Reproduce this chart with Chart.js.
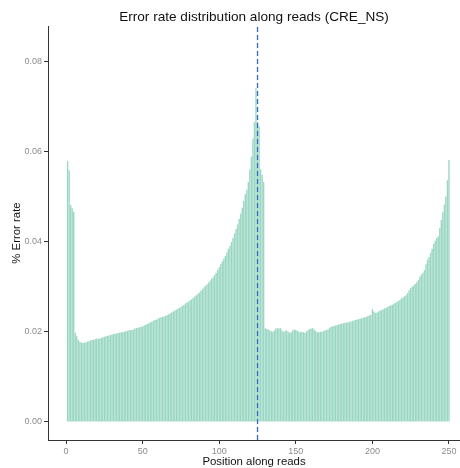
<!DOCTYPE html>
<html>
<head>
<meta charset="utf-8">
<script src="https://cdn.jsdelivr.net/npm/chart.js@4/dist/chart.umd.min.js"></script>
<style>
  html, body { margin: 0; padding: 0; background: #fff; }
  canvas { display: block; }
</style>
</head>
<body>
<canvas id="myChart" width="460" height="468"></canvas>
<script>
// error rate per read position (1..250)
const leftRates = [
  0.0578, 0.0558, 0.0481, 0.0474, 0.0466, 0.0198, 0.0190, 0.0182, 0.0178, 0.0176,
  0.0175, 0.0176, 0.0177, 0.0178, 0.0179, 0.0181, 0.0182, 0.0182, 0.0184, 0.0185,
  0.0184, 0.0185, 0.0186, 0.0188, 0.0189, 0.0190, 0.0191, 0.0192, 0.0193, 0.0194,
  0.0195, 0.0196, 0.0196, 0.0197, 0.0198, 0.0199, 0.0199, 0.0200, 0.0201, 0.0202,
  0.0203, 0.0204, 0.0204, 0.0205, 0.0207, 0.0208, 0.0209, 0.0210, 0.0211, 0.0212,
  0.0214, 0.0215, 0.0217, 0.0219, 0.0221, 0.0222, 0.0224, 0.0226, 0.0227, 0.0229,
  0.0231, 0.0232, 0.0233, 0.0234, 0.0235, 0.0237, 0.0239, 0.0241, 0.0243, 0.0245,
  0.0247, 0.0249, 0.0251, 0.0253, 0.0255, 0.0258, 0.0260, 0.0263, 0.0265, 0.0267,
  0.0270, 0.0272, 0.0275, 0.0278, 0.0281, 0.0284, 0.0287, 0.0291, 0.0294, 0.0298,
  0.0302, 0.0305, 0.0309, 0.0313, 0.0317, 0.0321, 0.0326, 0.0331, 0.0337, 0.0343,
  0.0350, 0.0356, 0.0362, 0.0368, 0.0376, 0.0384, 0.0391, 0.0399, 0.0408, 0.0418,
  0.0428, 0.0438, 0.0450, 0.0462, 0.0475, 0.0490, 0.0505, 0.0515, 0.0532, 0.0560,
  0.0588, 0.0628, 0.0665, 0.0740, 0.0665, 0.0655, 0.0560, 0.0548, 0.0532, 0.0208
];
const rightRates = [
  0.0206, 0.0205, 0.0203, 0.0201, 0.0200, 0.0203, 0.0207, 0.0208, 0.0207, 0.0208,
  0.0203, 0.0200, 0.0202, 0.0203, 0.0200, 0.0198, 0.0199, 0.0203, 0.0205, 0.0204,
  0.0202, 0.0200, 0.0199, 0.0200, 0.0199, 0.0198, 0.0201, 0.0204, 0.0206, 0.0207,
  0.0208, 0.0205, 0.0201, 0.0199, 0.0199, 0.0200, 0.0200, 0.0201, 0.0203, 0.0204,
  0.0205, 0.0209, 0.0211, 0.0212, 0.0213, 0.0214, 0.0215, 0.0216, 0.0217, 0.0218,
  0.0219, 0.0220, 0.0220, 0.0221, 0.0222, 0.0223, 0.0224, 0.0225, 0.0226, 0.0227,
  0.0228, 0.0229, 0.0230, 0.0231, 0.0232, 0.0233, 0.0235, 0.0236, 0.0238, 0.0250,
  0.0245, 0.0242, 0.0243, 0.0245, 0.0247, 0.0248, 0.0250, 0.0252, 0.0253, 0.0255,
  0.0257, 0.0258, 0.0260, 0.0262, 0.0264, 0.0266, 0.0268, 0.0271, 0.0274, 0.0276,
  0.0279, 0.0281, 0.0286, 0.0292, 0.0297, 0.0300, 0.0303, 0.0306, 0.0310, 0.0315,
  0.0322, 0.0327, 0.0331, 0.0337, 0.0350, 0.0360, 0.0366, 0.0375, 0.0384, 0.0395,
  0.0402, 0.0408, 0.0412, 0.0430, 0.0448, 0.0465, 0.0482, 0.0500, 0.0536, 0.0581
];
const errorRates = leftRates.concat(rightRates);
const positions = errorRates.map((v, i) => i + 1);

const xTicks = [0, 50, 100, 150, 200, 250];
const yTicks = [0, 0.02, 0.04, 0.06, 0.08];
const splitPosition = 125;   // dashed line (read 1 / read 2 join)

const xMin = -11.8, xMax = 257.2;
const yMin = -0.004, yMax = 0.0878;

const barData = positions.map((p, i) => ({ x: p, y: errorRates[i] }));
const lineData = [{ x: splitPosition, y: yMin }, { x: splitPosition, y: yMax }];

const axisColor = '#333333';
const tickColor = '#8c8c8c';
const font = 'Liberation Sans, Arial, Helvetica, sans-serif';

config = {
  data: {
    datasets: [{
      type: 'bar',
      data: barData,
      backgroundColor: '#9ad7c2',
      borderWidth: 0,
      barPercentage: 0.9,
      categoryPercentage: 1.0,
      order: 2
    }, {
      type: 'line',
      data: lineData,
      borderColor: '#2f6bc0',
      borderWidth: 1.3,
      borderDash: [5, 3],
      pointRadius: 0,
      order: 1
    }]
  },
  options: {
    responsive: false,
    animation: false,
    layout: { padding: 0 },
    plugins: {
      legend: { display: false },
      tooltip: { enabled: false },
      title: {
        display: true,
        text: 'Error rate distribution along reads (CRE_NS)',
        fullSize: false,
        color: '#111',
        font: { family: font, size: 13.6, weight: 'normal' },
        padding: { top: 9, bottom: 0.7 }
      }
    },
    scales: {
      x: {
        type: 'linear',
        min: xMin,
        max: xMax,
        offset: false,
        afterBuildTicks: s => { s.ticks = xTicks.map(v => ({ value: v })); },
        afterFit: s => { s.height = 28; },
        ticks: {
          color: tickColor,
          font: { family: font, size: 9 },
          padding: 2,
          maxRotation: 0,
          callback: v => String(v)
        },
        grid: { offset: false, drawOnChartArea: false, drawTicks: true, tickLength: 4, color: axisColor },
        border: { display: true, color: axisColor, width: 1 },
        title: {
          display: true,
          text: 'Position along reads',
          color: '#111',
          font: { family: font, size: 11.4 },
          padding: { top: 0, bottom: -1 }
        }
      },
      y: {
        type: 'linear',
        min: yMin,
        max: yMax,
        afterBuildTicks: s => { s.ticks = yTicks.map(v => ({ value: v })); },
        afterFit: s => { s.width = 48; },
        ticks: {
          color: tickColor,
          font: { family: font, size: 9 },
          padding: 2,
          callback: v => v.toFixed(2)
        },
        grid: { drawOnChartArea: false, drawTicks: true, tickLength: 4, color: axisColor },
        border: { display: true, color: axisColor, width: 1 },
        title: {
          display: true,
          text: '% Error rate',
          color: '#111',
          font: { family: font, size: 11.4 },
          padding: { top: 10, bottom: 0 }
        }
      }
    }
  }
};

let ctx = document.getElementById('myChart').getContext('2d');
let myChart = new Chart(ctx, config);
</script>
</body>
</html>
